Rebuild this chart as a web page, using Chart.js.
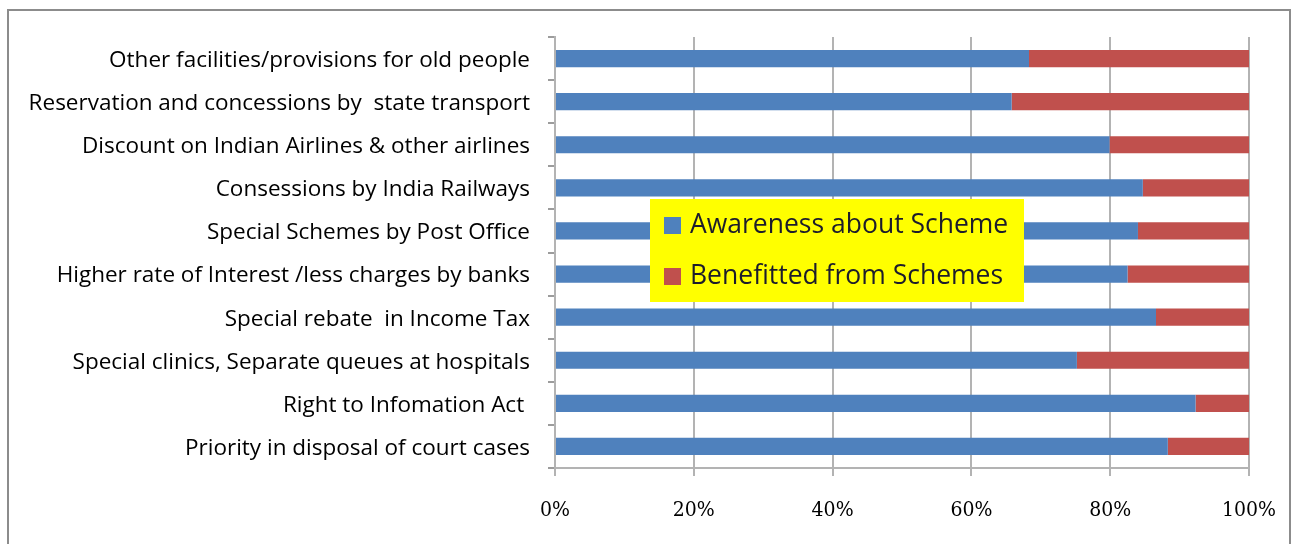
<!DOCTYPE html>
<html><head><meta charset="utf-8">
<script src="https://cdn.jsdelivr.net/npm/chart.js@4/dist/chart.umd.min.js"></script>
<style>html,body{margin:0;padding:0;background:#fff;}#wrap{width:1298px;height:544px;position:relative;}</style>
</head><body><div id="wrap"><canvas id="c" width="1298" height="544"></canvas></div>
<script>
const categories = [
  "Other facilities/provisions for old people",
  "Reservation and concessions by  state transport",
  "Discount on Indian Airlines & other airlines",
  "Consessions by India Railways",
  "Special Schemes by Post Office",
  "Higher rate of Interest /less charges by banks",
  "Special rebate  in Income Tax",
  "Special clinics, Separate queues at hospitals",
  "Right to Infomation Act ",
  "Priority in disposal of court cases"
];
const awareness = [68.3, 65.8, 79.9, 84.7, 84.0, 82.5, 86.6, 75.2, 92.3, 88.3];
const benefitted = [31.7, 34.2, 20.1, 15.3, 16.0, 17.5, 13.4, 24.8, 7.7, 11.7];
const seriesNames = ["Awareness about Scheme", "Benefitted from Schemes"];
const xTicks = [0, 20, 40, 60, 80, 100];

const labelFont = "'Open Sans', 'Noto Sans', sans-serif";

const frame = {
  id: 'frame',
  beforeDraw(chart) {
    const ctx = chart.ctx;
    ctx.save();
    ctx.fillStyle = '#fff';
    ctx.fillRect(0, 0, chart.width, chart.height);
    ctx.strokeStyle = '#8c8c8c';
    ctx.lineWidth = 2;
    ctx.strokeRect(8, 10, 1282, 545);
    ctx.restore();
  }
};

const boxLegend = {
  id: 'boxLegend',
  afterDatasetsDraw(chart) {
    const ctx = chart.ctx;
    ctx.save();
    ctx.fillStyle = '#ffff00';
    ctx.fillRect(650, 199, 374, 103);
    ctx.font = "26.5px " + labelFont;
    ctx.textBaseline = 'middle';
    chart.data.datasets.forEach((ds, i) => {
      const cy = 225 + i * 51;
      ctx.fillStyle = ds.backgroundColor;
      ctx.fillRect(664, cy - 8, 17, 17);
      ctx.fillStyle = '#1c1c2c';
      ctx.fillText(ds.label, 690, cy);
    });
    ctx.restore();
  }
};

new Chart(document.getElementById('c'), {
  type: 'bar',
  data: {
    labels: categories,
    datasets: [
      { label: seriesNames[0], data: awareness, backgroundColor: '#4f81bd', barPercentage: 0.4, categoryPercentage: 1.0 },
      { label: seriesNames[1], data: benefitted, backgroundColor: '#c0504d', barPercentage: 0.4, categoryPercentage: 1.0 }
    ]
  },
  options: {
    indexAxis: 'y',
    responsive: false,
    animation: false,
    layout: { padding: { top: 37, right: 49, left: 0, bottom: 0 } },
    plugins: { legend: { display: false }, tooltip: { enabled: false } },
    scales: {
      x: {
        stacked: true, min: 0, max: 100,
        afterFit(s) { s.height = 76; },
        afterBuildTicks(s) { s.ticks = xTicks.map(v => ({ value: v })); },
        grid: { color: '#b3b3b3', lineWidth: 2, tickLength: 8, drawTicks: true },
        border: { color: '#b3b3b3', width: 2 },
        ticks: { callback: v => v + '%', color: '#000', padding: 22, font: { family: "'DejaVu Serif Condensed', 'Liberation Serif', serif", size: 21 } }
      },
      y: {
        stacked: true,
        afterFit(s) { s.width = 555; },
        grid: { drawOnChartArea: false, offset: true, color: '#9c9c9c', lineWidth: 2, tickLength: 7 },
        border: { color: '#b3b3b3', width: 2 },
        ticks: { color: '#000', padding: 18, labelOffset: 2, font: { family: labelFont, size: 22.5 } }
      }
    }
  },
  plugins: [frame, boxLegend]
});
</script>
</body></html>
